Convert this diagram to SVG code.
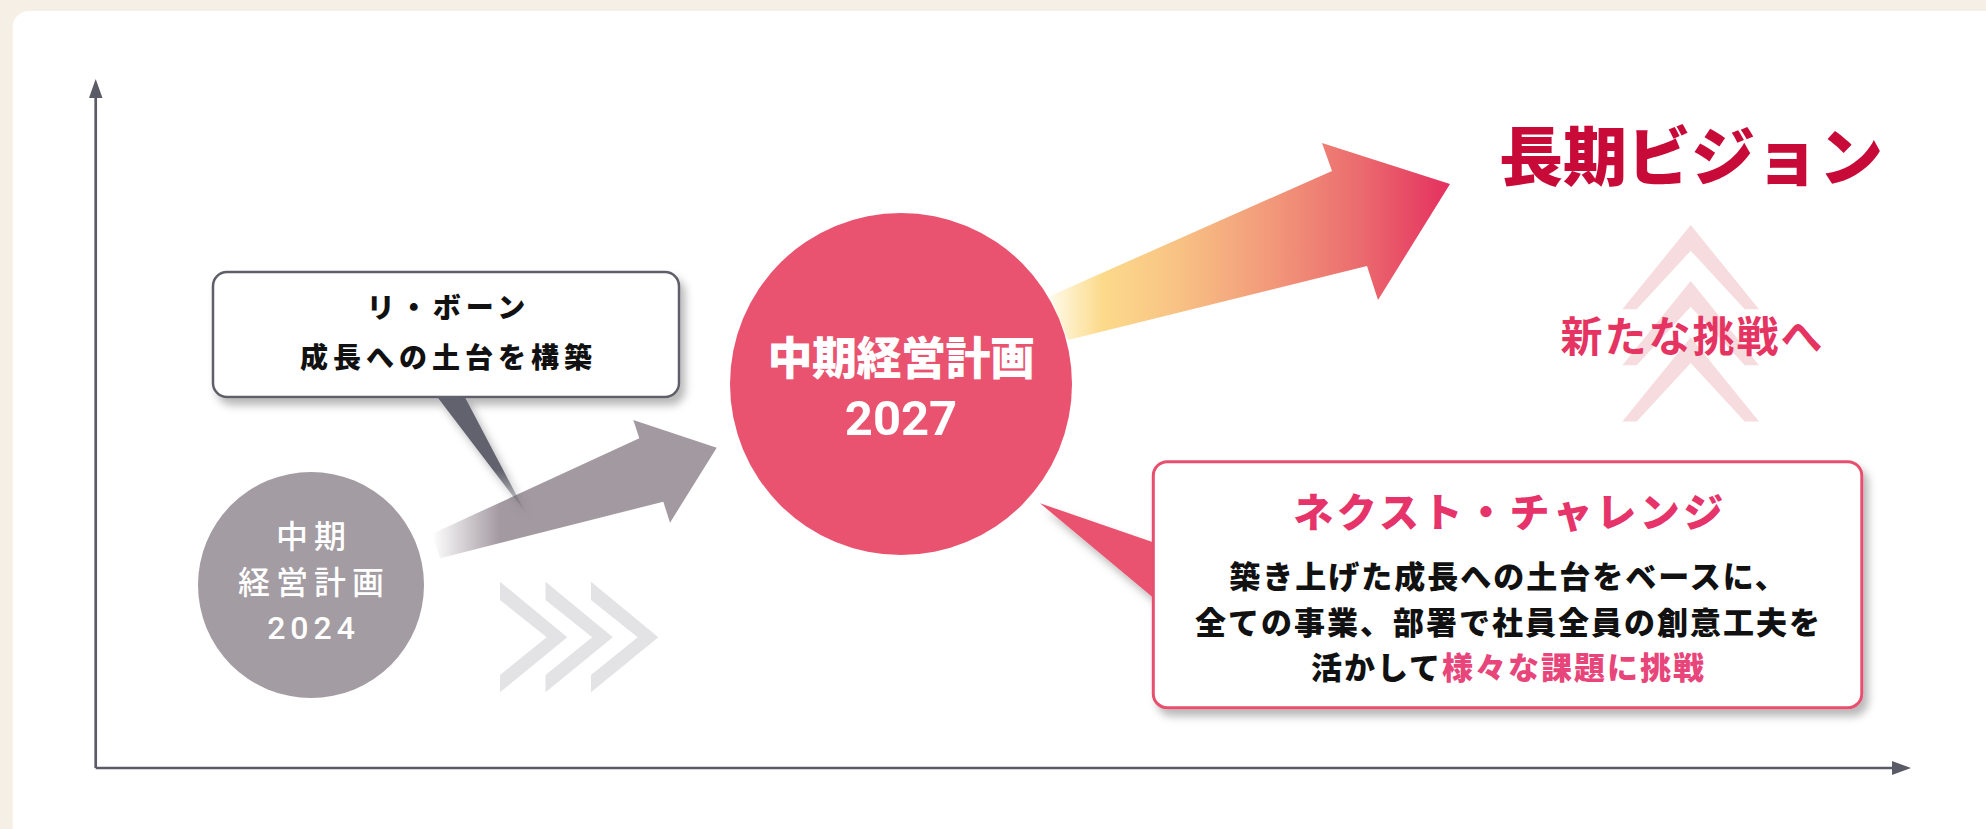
<svg xmlns="http://www.w3.org/2000/svg" width="1986" height="829" viewBox="0 0 1986 829">
  <defs>
    <style>
      .jp { font-family: "Noto Sans CJK JP", "Noto Sans", sans-serif; }
      .num { font-family: Roboto, "Liberation Sans", sans-serif; }
      .b { font-weight: 700; }
      .bk { font-weight: 900; }
      .axis { stroke: #5a5b66; stroke-width: 2.7; fill: none; }
      .axhead { fill: #5a5b66; }
      .gchev { fill: #e3e2e5; }
      .pchev { fill: #f7dcdf; }
      .dark { fill: #111111; }
      .pink { fill: #e8457a; }
    </style>
    <filter id="shadow" x="-10%" y="-20%" width="130%" height="150%">
      <feGaussianBlur in="SourceAlpha" stdDeviation="4"/>
      <feOffset dx="5" dy="7" result="o"/>
      <feFlood flood-color="#000000" flood-opacity="0.28"/>
      <feComposite in2="o" operator="in"/>
      <feMerge><feMergeNode/><feMergeNode in="SourceGraphic"/></feMerge>
    </filter>
    <linearGradient id="grayArrow" gradientUnits="userSpaceOnUse" x1="432" y1="0" x2="500" y2="0">
      <stop offset="0" stop-color="#a39aa1" stop-opacity="0"/>
      <stop offset="1" stop-color="#a39aa1" stop-opacity="1"/>
    </linearGradient>
    <linearGradient id="tailGrad" gradientUnits="userSpaceOnUse" x1="0" y1="397" x2="0" y2="514">
      <stop offset="0" stop-color="#62626e" stop-opacity="1"/>
      <stop offset="0.62" stop-color="#62626e" stop-opacity="1"/>
      <stop offset="1" stop-color="#62626e" stop-opacity="0.1"/>
    </linearGradient>
    <linearGradient id="warmArrow" gradientUnits="userSpaceOnUse" x1="1050" y1="0" x2="1450" y2="0">
      <stop offset="0" stop-color="#fffbe9"/>
      <stop offset="0.13" stop-color="#fcda8b"/>
      <stop offset="0.32" stop-color="#f8c284"/>
      <stop offset="0.55" stop-color="#f2997a"/>
      <stop offset="0.78" stop-color="#eb6a6e"/>
      <stop offset="1" stop-color="#e4305f"/>
    </linearGradient>
  </defs>

  <!-- background -->
  <rect x="0" y="0" width="1986" height="829" fill="#f6efe5"/>
  <rect x="12.7" y="11" width="2010" height="850" rx="16" fill="#ffffff"/>

  <!-- decorative chevrons -->
  <g id="gray-chevrons">
    <polygon class="gchev" points="500,581.7 567.3,637.3 500,692.3 500,675 546.7,637.3 500,600"/>
    <polygon class="gchev" points="545.5,581.7 612.8,637.3 545.5,692.3 545.5,675 592.2,637.3 545.5,600"/>
    <polygon class="gchev" points="591,581.7 658.3,637.3 591,692.3 591,675 637.7,637.3 591,600"/>
  </g>

  <!-- axes and connectors -->
  <g id="connectors">
    <line class="axis" x1="95.7" y1="96" x2="95.7" y2="768"/>
    <polygon class="axhead" points="95.7,79 102.5,98 89,98"/>
    <line class="axis" x1="95.7" y1="768" x2="1894" y2="768"/>
    <polygon class="axhead" points="1911,768 1892,761 1892,775"/>
    <polygon id="arrow-gray" fill="url(#grayArrow)" points="431.7,534 639.3,438.3 633.3,420 716.7,447.7 670,522.7 663.3,501.7 440,558.3"/>
    <polygon id="arrow-warm" fill="url(#warmArrow)" points="1050,296 1332,171 1322,143 1450,184 1378,300 1367,266 1068,340"/>
  </g>

  <!-- node: 中期経営計画2024 -->
  <g id="node-plan2024">
    <circle cx="311" cy="585" r="113" fill="#a39ca2"/>
    <text class="jp" x="314" y="548" font-size="32" font-weight="500" letter-spacing="6" fill="#ffffff" text-anchor="middle">中期</text>
    <text class="jp" x="314" y="594" font-size="32" font-weight="500" letter-spacing="6" fill="#ffffff" text-anchor="middle">経営計画</text>
    <text class="num" x="313.5" y="638.5" font-size="32" font-weight="500" letter-spacing="5" fill="#ffffff" text-anchor="middle">2024</text>
  </g>

  <!-- node: callout リ・ボーン -->
  <g id="node-reborn" filter="url(#shadow)">
    <polygon points="435,394 463.3,394 526,513.3" fill="url(#tailGrad)"/>
    <rect x="213" y="272" width="466" height="125" rx="14" fill="#ffffff" stroke="#5f5f6b" stroke-width="2.5"/>
    <polygon points="436.5,396 462,396 458,399 440,399" fill="#62626e"/>
  </g>
  <g id="node-reborn-text">
    <text class="jp bk dark" x="448.5" y="318.4" font-size="28" letter-spacing="5" text-anchor="middle">リ・ボーン</text>
    <text class="jp bk dark" x="448.5" y="368.4" font-size="28" letter-spacing="5" text-anchor="middle">成長への土台を構築</text>
  </g>

  <!-- node: 中期経営計画2027 -->
  <g id="node-plan2027">
    <circle cx="901" cy="384" r="171" fill="#e9536f"/>
    <text class="jp bk" x="901" y="374.5" font-size="45" letter-spacing="-0.5" fill="#ffffff" text-anchor="middle">中期経営計画</text>
    <text class="num" x="901" y="435" font-size="49" font-weight="700" fill="#ffffff" text-anchor="middle">2027</text>
  </g>

  <!-- node: 長期ビジョン -->
  <g id="node-vision">
    <text class="jp bk" x="1691" y="179.7" font-size="64" fill="#c70a38" text-anchor="middle">長期ビジョン</text>
  </g>

  <!-- node: 新たな挑戦へ -->
  <g id="node-new-challenge">
    <polygon class="pchev" points="1690.7,225 1759,309.3 1744.7,309.3 1690.7,250.7 1636.7,309.3 1622.4,309.3"/>
    <polygon class="pchev" points="1690.7,281 1759,365.3 1744.7,365.3 1690.7,306.7 1636.7,365.3 1622.4,365.3"/>
    <polygon class="pchev" points="1690.7,337.3 1759,421.6 1744.7,421.6 1690.7,363 1636.7,421.6 1622.4,421.6"/>
    <text class="jp b" x="1692.5" y="351.5" font-size="42" letter-spacing="2" fill="#e63462" text-anchor="middle">新たな挑戦へ</text>
  </g>

  <!-- node: ネクスト・チャレンジ -->
  <g id="node-next-challenge" filter="url(#shadow)">
    <polygon points="1040,503.3 1156,543.3 1156,600" fill="#e9536f"/>
    <rect x="1153.3" y="461.7" width="708.5" height="246" rx="14" fill="#ffffff" stroke="#e8506e" stroke-width="3"/>
  </g>
  <g id="node-next-challenge-text">
    <text class="jp bk" x="1510" y="526.8" font-size="40" letter-spacing="3.5" fill="#e6336a" text-anchor="middle">ネクスト・チャレンジ</text>
    <text class="jp bk dark" x="1508.5" y="587.5" font-size="31" letter-spacing="2" text-anchor="middle">築き上げた成長への土台をベースに、</text>
    <text class="jp bk dark" x="1508.5" y="633.5" font-size="31" letter-spacing="2" text-anchor="middle">全ての事業、部署で社員全員の創意工夫を</text>
    <text class="jp bk dark" x="1508.5" y="678.5" font-size="31" letter-spacing="2" text-anchor="middle">活かして<tspan class="pink">様々な課題に挑戦</tspan></text>
  </g>
</svg>
